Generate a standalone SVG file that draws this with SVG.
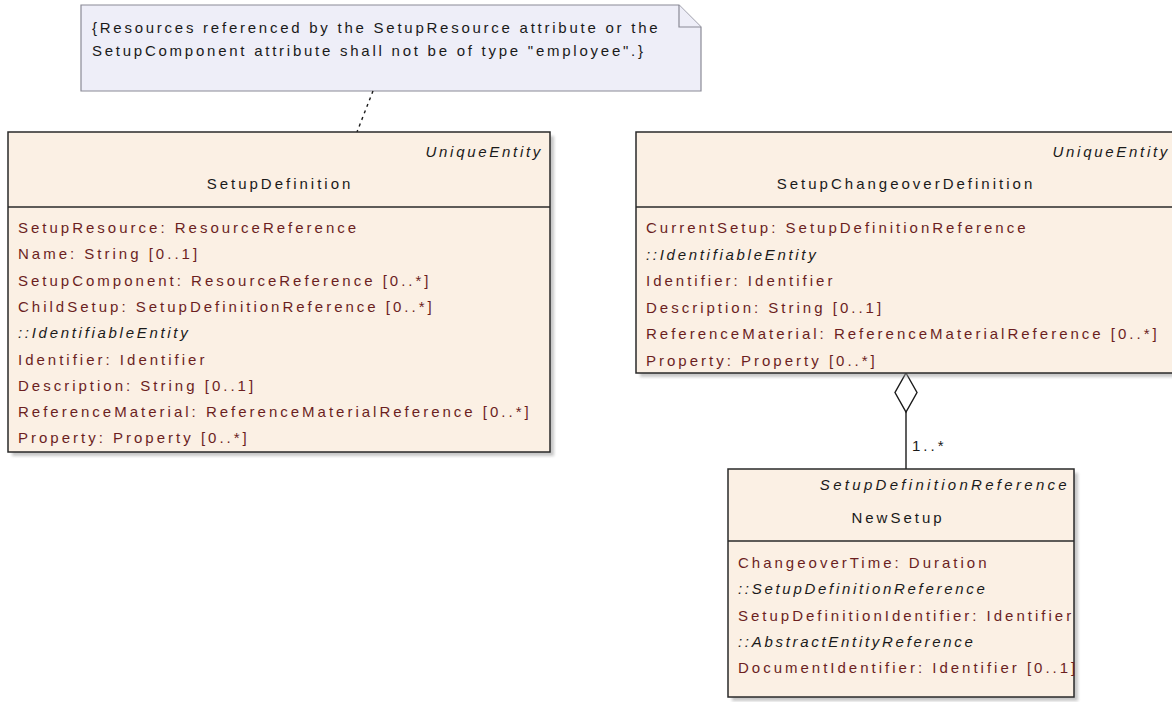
<svg xmlns="http://www.w3.org/2000/svg" width="1172" height="702" viewBox="0 0 1172 702">
<style>
  text { font-family: "Liberation Sans", Arial, sans-serif; font-size: 15px; letter-spacing: 3px; }
  .attr { fill: #6b1f1f; }
  .it { font-style: italic; letter-spacing: 2.7px; fill: #1a1a1a; }
  .hd { fill: #1a1a1a; }
  .box { fill: #fbf0e4; stroke: #2a2a2a; stroke-width: 1.5; }
  .sep { stroke: #2a2a2a; stroke-width: 1.5; }
  .shadow { fill: #9a9a9a; opacity: 0.55; filter: url(#blur); }
  .note { fill: #eeeef8; stroke: #8a8a96; stroke-width: 1.2; }
  .conn { stroke: #1a1a1a; stroke-width: 1.4; fill: none; }
</style>
<defs>
  <filter id="blur" x="-5%" y="-5%" width="110%" height="110%"><feGaussianBlur stdDeviation="1.5"/></filter>
</defs>
<rect width="1172" height="702" fill="#ffffff"/>

<g id="note">
  <polygon class="note" points="81,5 679,5 701,27 701,91 81,91"/>
  <polyline class="note" points="679,5 679,27 701,27" fill="none"/>
  <text x="92" y="33" class="hd" style="letter-spacing:2.75px">{Resources referenced by the SetupResource attribute or the</text>
  <text x="92" y="56" class="hd" style="letter-spacing:2.75px">SetupComponent attribute shall not be of type "employee".}</text>
</g>

<g id="connectors">
  <line class="conn" x1="373" y1="91" x2="357" y2="132" stroke-dasharray="3,4"/>
  <line class="conn" x1="906" y1="412" x2="906" y2="469"/>
  <polygon class="conn" fill="#ffffff" points="906,373 917,392.5 906,412 895,392.5"/>
  <text x="912" y="451" class="hd">1..*</text>
</g>

<g id="SetupDefinition">
  <rect class="shadow" x="12" y="136" width="542" height="320"/>
  <rect class="box" x="8" y="132" width="542" height="320"/>
  <line class="sep" x1="8" y1="207" x2="550" y2="207"/>
  <text x="543" y="157" class="it" text-anchor="end">UniqueEntity</text>
  <text x="280" y="189" class="hd" text-anchor="middle">SetupDefinition</text>
  <text x="18" y="233" class="attr">SetupResource: ResourceReference</text>
  <text x="18" y="259.3" class="attr">Name: String [0..1]</text>
  <text x="18" y="285.6" class="attr">SetupComponent: ResourceReference [0..*]</text>
  <text x="18" y="311.9" class="attr">ChildSetup: SetupDefinitionReference [0..*]</text>
  <text x="18" y="338.2" class="it">::IdentifiableEntity</text>
  <text x="18" y="364.5" class="attr">Identifier: Identifier</text>
  <text x="18" y="390.8" class="attr">Description: String [0..1]</text>
  <text x="18" y="417.1" class="attr">ReferenceMaterial: ReferenceMaterialReference [0..*]</text>
  <text x="18" y="443.4" class="attr">Property: Property [0..*]</text>
</g>

<g id="SetupChangeoverDefinition">
  <rect class="shadow" x="640" y="136" width="542" height="241"/>
  <rect class="box" x="636" y="132" width="542" height="241"/>
  <line class="sep" x1="636" y1="207" x2="1178" y2="207"/>
  <text x="1170" y="157" class="it" text-anchor="end">UniqueEntity</text>
  <text x="906" y="189" class="hd" text-anchor="middle">SetupChangeoverDefinition</text>
  <text x="646" y="233" class="attr">CurrentSetup: SetupDefinitionReference</text>
  <text x="646" y="259.5" class="it">::IdentifiableEntity</text>
  <text x="646" y="286" class="attr">Identifier: Identifier</text>
  <text x="646" y="312.5" class="attr">Description: String [0..1]</text>
  <text x="646" y="339" class="attr">ReferenceMaterial: ReferenceMaterialReference [0..*]</text>
  <text x="646" y="365.5" class="attr">Property: Property [0..*]</text>
</g>

<g id="NewSetup">
  <rect class="shadow" x="732" y="473" width="346" height="228"/>
  <rect class="box" x="728" y="469" width="346" height="228"/>
  <line class="sep" x1="728" y1="541" x2="1074" y2="541"/>
  <text x="1070" y="490" class="it" text-anchor="end" style="letter-spacing:3.3px">SetupDefinitionReference</text>
  <text x="898" y="523" class="hd" text-anchor="middle">NewSetup</text>
  <text x="738" y="568" class="attr">ChangeoverTime: Duration</text>
  <text x="738" y="594.3" class="it">::SetupDefinitionReference</text>
  <text x="738" y="620.6" class="attr">SetupDefinitionIdentifier: Identifier</text>
  <text x="738" y="646.9" class="it">::AbstractEntityReference</text>
  <text x="738" y="673.2" class="attr">DocumentIdentifier: Identifier [0..1]</text>
</g>
</svg>
